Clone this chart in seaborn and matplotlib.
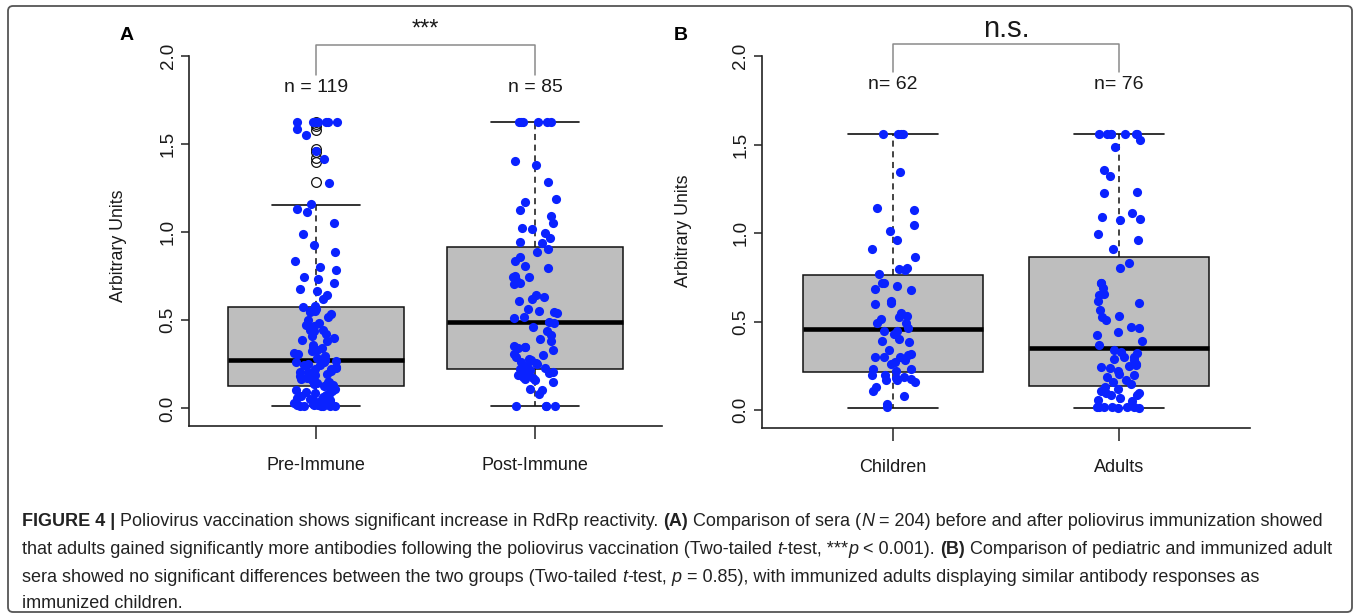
import numpy as np
import pandas as pd
import matplotlib
matplotlib.use('Agg')
import matplotlib.pyplot as plt
from matplotlib.patches import FancyBboxPatch
import seaborn as sns

# values (arbitrary units)
pre_immune = [1.625, 1.625, 1.625, 1.625, 1.625, 1.625, 1.625, 1.584, 1.55, 1.46, 1.413, 1.282, 1.162,
              1.134, 1.113, 1.054, 0.991, 0.929, 0.885, 0.834, 0.805,
              0.786, 0.748, 0.733, 0.714, 0.676, 0.668, 0.646, 0.619,
              0.583, 0.575, 0.565, 0.555, 0.552, 0.547, 0.536, 0.521,
              0.501, 0.486, 0.473, 0.47, 0.454, 0.446, 0.444, 0.441, 0.425, 0.41,
              0.397, 0.387, 0.385, 0.36, 0.346, 0.34, 0.334, 0.328, 0.312, 0.31,
              0.295, 0.284, 0.277,
              0.271, 0.266, 0.262, 0.251, 0.248, 0.244, 0.236, 0.232, 0.226, 0.221,
              0.214, 0.209, 0.205, 0.198, 0.196, 0.191, 0.184, 0.181, 0.177, 0.17,
              0.166, 0.161, 0.156, 0.152, 0.148, 0.142, 0.137, 0.134, 0.13, 0.127,
              0.119, 0.111, 0.103, 0.098, 0.092, 0.085, 0.079, 0.074, 0.068, 0.063,
              0.059, 0.054, 0.05, 0.046, 0.042, 0.038, 0.035, 0.031, 0.028, 0.025,
              0.022, 0.02, 0.018, 0.016, 0.014, 0.013, 0.012, 0.011, 0.011]
post_immune = [1.625, 1.625, 1.625, 1.625, 1.625, 1.625, 1.403, 1.38, 1.284, 1.19, 1.17, 1.124,
               1.09, 1.052, 1.024, 1.018, 0.995, 0.967, 0.942, 0.938,
               0.905, 0.89, 0.86, 0.835, 0.81, 0.795, 0.752, 0.748, 0.745, 0.73, 0.714, 0.707,
               0.644, 0.63, 0.619, 0.611, 0.562, 0.553, 0.549, 0.54, 0.52, 0.511, 0.492,
               0.486, 0.463, 0.44, 0.416, 0.391, 0.38, 0.353, 0.349, 0.346, 0.34, 0.334,
               0.31, 0.302, 0.292, 0.283, 0.274, 0.265, 0.255, 0.251, 0.24, 0.232,
               0.226, 0.226, 0.22, 0.217, 0.21, 0.205, 0.198, 0.19, 0.188, 0.178, 0.175,
               0.169, 0.16, 0.15, 0.112, 0.103, 0.08, 0.011, 0.011, 0.011, 0.011]
children = [1.559, 1.559, 1.559, 1.559, 1.347, 1.143, 1.13, 1.045, 1.013, 0.96, 0.91, 0.863,
            0.806, 0.795, 0.791, 0.768, 0.719, 0.719, 0.7, 0.687, 0.678,
            0.617, 0.603, 0.599, 0.55, 0.531, 0.524, 0.518, 0.493, 0.49, 0.462,
            0.45, 0.448, 0.429, 0.405, 0.39, 0.386, 0.339, 0.32, 0.31, 0.301, 0.301,
            0.298, 0.282, 0.27, 0.264, 0.235, 0.235, 0.222, 0.2, 0.198, 0.188, 0.185,
            0.179, 0.17, 0.169, 0.16, 0.13, 0.109, 0.079, 0.034, 0.019]
adults = [1.559, 1.559, 1.559, 1.559, 1.559, 1.559, 1.559, 1.525, 1.488, 1.356, 1.322, 1.233,
          1.228, 1.111, 1.089, 1.081, 1.073, 0.994, 0.964, 0.908, 0.829, 0.806,
          0.719, 0.716, 0.693, 0.655, 0.65, 0.617, 0.603, 0.565, 0.531, 0.527, 0.512,
          0.471, 0.462, 0.443, 0.424, 0.39, 0.367,
          0.343, 0.33, 0.324, 0.301, 0.301, 0.29, 0.282, 0.264, 0.254, 0.249, 0.245,
          0.236, 0.22, 0.207, 0.2, 0.188, 0.169, 0.16, 0.151, 0.132, 0.12, 0.11, 0.098,
          0.098, 0.085, 0.085, 0.072, 0.06, 0.05, 0.019, 0.019, 0.017, 0.017, 0.016,
          0.016, 0.015, 0.015]

# box statistics as drawn (whisker low, Q1, median, Q3, whisker high)
groups_a = ['Pre-Immune', 'Post-Immune']
groups_b = ['Children', 'Adults']
whislo_a = [0.011, 0.011]
q1_a = [0.126, 0.224]
med_a = [0.275, 0.492]
q3_a = [0.573, 0.917]
whishi_a = [1.157, 1.625]
fliers_a = [[1.625, 1.615, 1.60, 1.58, 1.47, 1.455, 1.42, 1.40, 1.284], []]
whislo_b = [0.015, 0.015]
q1_b = [0.216, 0.137]
med_b = [0.458, 0.354]
q3_b = [0.763, 0.866]
whishi_b = [1.559, 1.559]
n_a = ['n = 119', 'n = 85']
n_b = ['n= 62', 'n= 76']

W, H = 1360, 615
BLUE = '#0a22ff'
TXT = '#1a1a1a'

sns.set_style('ticks')
plt.rcParams['font.family'] = ['Liberation Sans', 'DejaVu Sans']
np.random.seed(7)

fig = plt.figure(figsize=(W / 100, H / 100), dpi=100)
fig.patch.set_facecolor('white')

# outer frame
fig.patches.append(FancyBboxPatch((8, 3), 1344, 606, boxstyle='round,pad=0,rounding_size=5',
                                  transform=None, fill=False, edgecolor='#555555', linewidth=1.3))


def panel(rect, groups, vals, whislo, q1, med, q3, whishi, fliers, ns, n_y,
          bracket, sig, sig_size, letter, letter_x, ylab_xy):
    ax = fig.add_axes(rect)
    stats = []
    for i in range(2):
        stats.append(dict(whislo=whislo[i], q1=q1[i], med=med[i], q3=q3[i],
                          whishi=whishi[i], fliers=fliers[i]))
    ax.bxp(stats, positions=[0, 1], widths=0.8, capwidths=0.4, patch_artist=True,
           manage_ticks=False,
           boxprops=dict(facecolor='#bebebe', edgecolor='#111111', linewidth=1.1),
           medianprops=dict(color='black', linewidth=3.3, solid_capstyle='butt'),
           whiskerprops=dict(color='#111111', linewidth=1.1, linestyle=(0, (4, 3))),
           capprops=dict(color='#111111', linewidth=1.2),
           flierprops=dict(marker='o', markerfacecolor='none', markeredgecolor='#111111',
                           markersize=7, markeredgewidth=0.9))
    df = pd.DataFrame({'group': [groups[0]] * len(vals[0]) + [groups[1]] * len(vals[1]),
                       'value': list(vals[0]) + list(vals[1])})
    sns.stripplot(data=df, x='group', y='value', order=groups, jitter=0.1, color=BLUE,
                  size=6.6, linewidth=0, ax=ax, zorder=3)

    ax.set_xlim(-0.58, 1.58)
    ax.set_ylim(-0.1, 2.1)
    ax.set_yticks([0, 0.5, 1.0, 1.5, 2.0])
    ax.set_yticklabels(['0.0', '0.5', '1.0', '1.5', '2.0'], rotation=90, va='center',
                       fontsize=13.5, color=TXT)
    ax.set_xticks([0, 1])
    ax.set_xticklabels(groups, fontsize=13, color=TXT)
    ax.tick_params(axis='y', length=6, width=1.1, pad=3, color='#222222')
    ax.tick_params(axis='x', length=9, width=1.1, pad=13, color='#222222')
    ax.set_xlabel('')
    ax.set_ylabel('Arbitrary Units', fontsize=12.8, color=TXT)
    ax.yaxis.set_label_coords(*ylab_xy)
    for s in ['top', 'right']:
        ax.spines[s].set_visible(False)
    for s in ['left', 'bottom']:
        ax.spines[s].set_color('#222222')
        ax.spines[s].set_linewidth(1.2)
    ax.spines['left'].set_bounds(-0.1, 2.0)
    ax.patch.set_alpha(0)

    for i in range(2):
        ax.text(i, n_y, ns[i], ha='center', va='center', fontsize=14, color=TXT)
    lo, hi = bracket
    ax.plot([0, 0, 1, 1], [lo, hi, hi, lo], color='#8a8a8a', linewidth=1.1, clip_on=False)
    ax.text(0.5, 2.15, sig, ha='center', va='center', fontsize=sig_size, color=TXT, clip_on=False)
    fig.text(letter_x / W, 1 - 35 / H, letter, ha='center', va='center', fontsize=14,
             fontweight='bold', color='black')
    return ax


panel([189 / W, (H - 426) / H, 473 / W, (426 - 38.4) / H], groups_a, [pre_immune, post_immune],
      whislo_a, q1_a, med_a, q3_a, whishi_a, fliers_a, n_a, 1.82,
      (1.89, 2.06), '***', 17, 'A', 127, (-0.131, 0.464))
panel([762 / W, (H - 428) / H, 488 / W, (428 - 38.3) / H], groups_b, [children, adults],
      whislo_b, q1_b, med_b, q3_b, whishi_b, [[], []], n_b, 1.84,
      (1.91, 2.07), 'n.s.', 21, 'B', 681, (-0.143, 0.505))

# caption with mixed weights / styles
CAP = 13.0
NORM = {}
BOLD = {'fontweight': 'bold'}
ITAL = {'fontstyle': 'italic'}
caption = [
    [('FIGURE 4 |', BOLD), (' Poliovirus vaccination shows significant increase in RdRp reactivity. ', NORM),
     ('(A)', BOLD), (' Comparison of sera (', NORM), ('N', ITAL),
     (' = 204) before and after poliovirus immunization showed', NORM)],
    [('that adults gained significantly more antibodies following the poliovirus vaccination (Two-tailed ', NORM),
     ('t', ITAL), ('-test, ***', NORM), ('p', ITAL), (' < 0.001). ', NORM), ('(B)', BOLD),
     (' Comparison of pediatric and immunized adult', NORM)],
    [('sera showed no significant differences between the two groups (Two-tailed ', NORM), ('t', ITAL),
     ('-test, ', NORM), ('p', ITAL),
     (' = 0.85), with immunized adults displaying similar antibody responses as', NORM)],
    [('immunized children.', NORM)],
]
cap_y = [521, 549, 577, 603]

renderer = fig.canvas.get_renderer()


def width_of(s, kw):
    t = fig.text(0, 0, '|' + s + '|', fontsize=CAP, **kw)
    t2 = fig.text(0, 0, '||', fontsize=CAP, **kw)
    w = t.get_window_extent(renderer).width - t2.get_window_extent(renderer).width
    t.remove()
    t2.remove()
    return w


for line, y in zip(caption, cap_y):
    x = 22.0
    for s, kw in line:
        lead = len(s) - len(s.lstrip(' '))
        body = s.strip(' ')
        x0 = x + (width_of(' ' * lead, kw) if lead else 0)
        fig.text(x0 / W, 1 - y / H, body, fontsize=CAP, ha='left', va='center', color='#222222', **kw)
        x += width_of(s, kw)

fig.savefig('out.png', dpi=100)
